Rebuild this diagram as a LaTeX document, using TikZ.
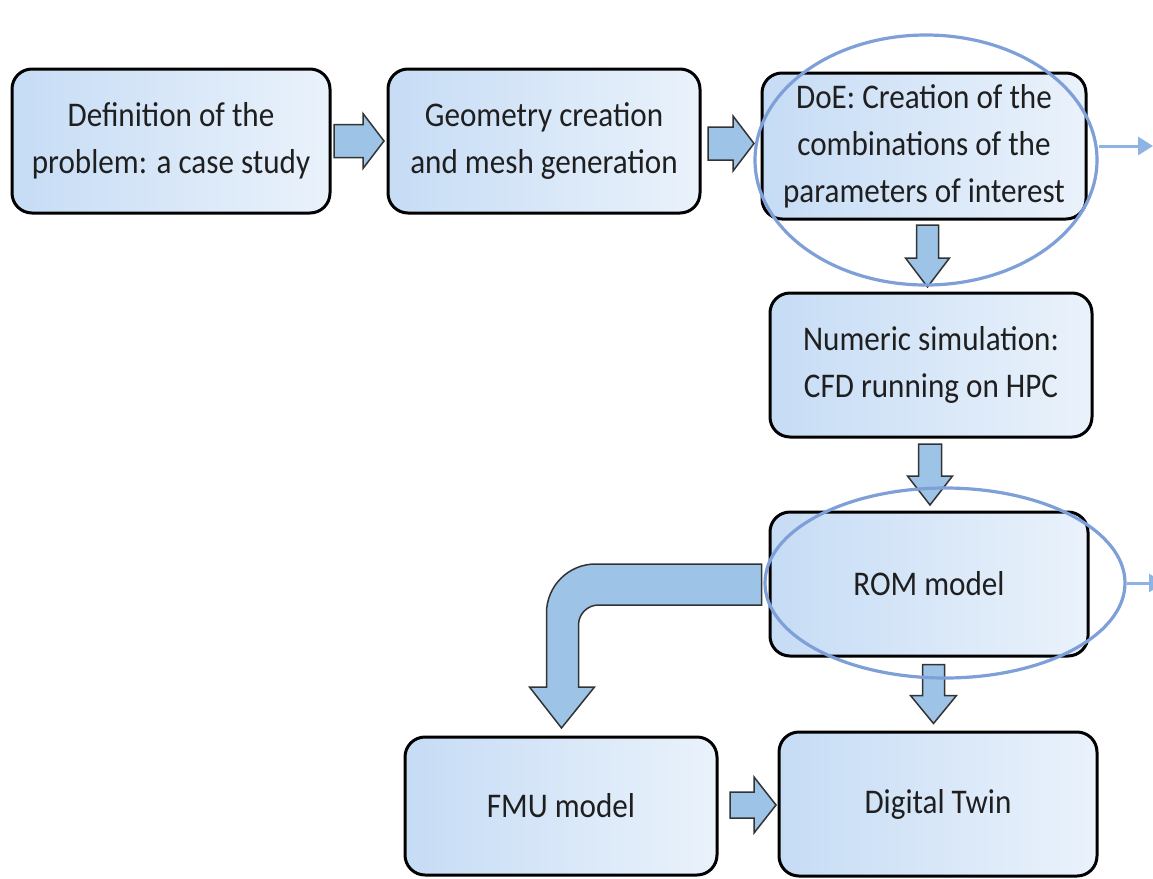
\documentclass[tikz,border=0pt]{standalone}
\usepackage{fontspec}
\setmainfont{Carlito}[FakeStretch=0.9]
\usetikzlibrary{calc,shapes.geometric,arrows.meta}

\definecolor{boxdark}{HTML}{C6DCF5}
\definecolor{boxlight}{HTML}{EAF2FB}
\definecolor{arrowfill}{HTML}{9DC3E6}
\definecolor{arrowline}{HTML}{333333}
\definecolor{ringblue}{HTML}{7F9FD9}
\definecolor{linkblue}{HTML}{8DB4E2}

\tikzset{
  stage/.style={draw=black, line width=1.5pt, rounded corners=10pt,
    left color=boxdark, right color=boxlight, align=center,
    font=\fontsize{17.3}{23.5}\selectfont, text=black!88,
    minimum width=159pt, minimum height=72pt, inner sep=0pt},
  fatarrow/.style={draw=arrowline, line width=0.75pt, fill=arrowfill},
  ring/.style={draw=ringblue, line width=1.6pt, ellipse, inner sep=0pt},
  pointer/.style={draw=linkblue, line width=1.5pt, -{Triangle[length=7.5pt,width=9pt]}},
  pics/blockarrow/.style n args={4}{code={
    \draw[fatarrow] (-#1/2,-#2/2) -- (#1/2-#4,-#2/2) -- (#1/2-#4,-#3/2) -- (#1/2,0)
      -- (#1/2-#4,#3/2) -- (#1/2-#4,#2/2) -- (-#1/2,#2/2) -- cycle;
  }},
}

\begin{document}
\begin{tikzpicture}[x=0.5pt, y=-0.5pt]
\useasboundingbox (0,0) rectangle (1153,879);

% process boxes
\node[stage] (def) at (171,141) {Definition of the\\problem: a case study};
\node[stage, minimum width=156pt] (geo) at (544,141) {Geometry creation\\and mesh generation};
\node[stage, minimum width=162pt, minimum height=73pt] (doe) at (924,146)
  {DoE: Creation of the\\combinations of the\\parameters of interest};
\node[stage, minimum width=161pt] (num) at (931,365) {Numeric simulation:\\CFD running on HPC};
\node[stage] (rom) at (929,584) {ROM model};
\node[stage, minimum width=156pt, minimum height=69pt] (fmu) at (561,806) {FMU model};
\node[stage] (twin) at (938,804) {Digital Twin};

% block arrows
\pic at ($(def.east)!0.5!(geo.west)$) {blockarrow={50}{33}{55}{21}};
\pic at ($(geo.east)!0.5!(doe.west)$) {blockarrow={46}{33}{55}{21}};
\pic[rotate=-90] at ($(doe.south)!0.5!(num.north)$) {blockarrow={62}{22}{44}{29}};
\pic[rotate=-90] at ($(num.south)!0.5!(rom.north)$) {blockarrow={61}{23}{45}{29}};
\pic[rotate=-90] at ($(rom.south)!0.5!(twin.north)$) {blockarrow={59}{22}{46}{28}};
\pic at ($(fmu.east)!0.5!(twin.west)+(5,0)$) {blockarrow={46}{26}{56}{22}};

% bent arrow ROM -> FMU
\draw[fatarrow] ($(rom.west)+(-7,-20)$) -- ++(-166,0)
  .. controls +(-27,0) and +(0,-27) .. ++(-49,49)
  -- ++(0,74) -- ++(-17,0) -- ++(32,41) -- ++(33,-41) -- ++(-16,0) -- ++(0,-62)
  .. controls +(0,-11) and +(-11,0) .. ++(20,-20)
  -- ($(rom.west)+(-7,21)$) -- cycle;

% highlights
\node[ring, minimum width=171pt, minimum height=125pt] (ring1) at ($(doe.center)+(2,14)$) {};
\node[ring, minimum width=180pt, minimum height=95pt] (ring2) at ($(rom.center)+(16,-1)$) {};
\coordinate (out1) at (1153,146);
\coordinate (out2) at (1164,583);
\draw[pointer] (ring1.east |- doe.east) -- (out1);
\draw[pointer] (ring2.east) -- (out2);
\end{tikzpicture}
\end{document}
